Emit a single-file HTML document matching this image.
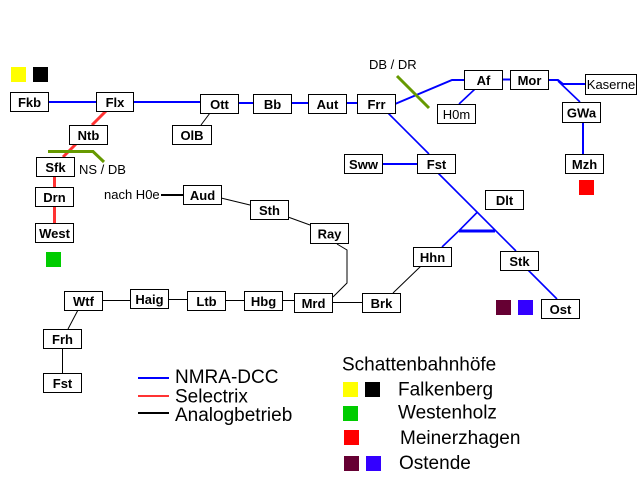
<!DOCTYPE html>
<html><head><meta charset="utf-8"><style>
html,body{margin:0;padding:0;background:#fff;}
svg{display:block;}
.b{font-family:"Liberation Sans",Arial,sans-serif;font-weight:bold;font-size:13px;fill:#000;}
.n{font-family:"Liberation Sans",Arial,sans-serif;font-size:13px;fill:#000;}
.l{font-family:"Liberation Sans",Arial,sans-serif;font-size:19px;fill:#000;}
rect.box{fill:#fff;stroke:#000;stroke-width:1;}
</style></head><body>
<svg width="640" height="480" viewBox="0 0 640 480" xmlns="http://www.w3.org/2000/svg">
<rect x="0" y="0" width="640" height="480" fill="#fff"/>
<!-- blue lines -->
<g stroke="#0000ff" fill="none" stroke-width="2">
<line x1="48" y1="102" x2="96" y2="102"/>
<line x1="133" y1="102" x2="200" y2="102"/>
<line x1="238" y1="103" x2="253" y2="103"/>
<line x1="291" y1="103" x2="308" y2="103"/>
<line x1="346" y1="103" x2="357" y2="103"/>
<polyline points="395,104 452,80 464,80"/>
<line x1="502" y1="79.5" x2="510" y2="79.5"/>
<polyline points="548,80 558,80 563,84 585,84"/>
<line x1="583" y1="122" x2="583" y2="154"/>
<line x1="382" y1="164" x2="417" y2="164"/>
</g>
<g stroke="#0000ff" fill="none" stroke-width="1.6">
<line x1="558" y1="81" x2="580" y2="102"/>
<line x1="475" y1="89" x2="459" y2="104"/>
<line x1="388" y1="113" x2="429" y2="154"/>
<line x1="438" y1="173" x2="516" y2="251"/>
<line x1="477" y1="212.5" x2="459" y2="230.7"/>
<line x1="459" y1="230.7" x2="442" y2="247"/>
<line x1="528" y1="270" x2="557" y2="299"/>
</g>
<line x1="459" y1="231" x2="495" y2="231" stroke="#0000ff" stroke-width="3"/>
<!-- red lines -->
<g stroke="#ff3333" fill="none" stroke-width="3">
<line x1="106" y1="111" x2="92" y2="125"/>
<line x1="76" y1="144" x2="63" y2="157"/>
<line x1="54.5" y1="176" x2="54.5" y2="187"/>
<line x1="54.5" y1="206" x2="54.5" y2="223"/>
</g>
<!-- green markers -->
<g stroke="#669900" fill="none" stroke-width="3">
<polyline points="48,151.5 93,151.5 104,162"/>
<line x1="397" y1="76" x2="429" y2="108"/>
</g>
<!-- black lines -->
<g stroke="#000" fill="none" stroke-width="1">
<line x1="210" y1="113" x2="201" y2="125"/>
<line x1="221" y1="198" x2="250" y2="205"/>
<line x1="288" y1="217" x2="310" y2="225"/>
<polyline points="337,244 347,250 347,283 333,297"/>
<line x1="102" y1="300.5" x2="130" y2="300.5"/>
<line x1="168" y1="299.5" x2="187" y2="299.5"/>
<line x1="225" y1="300.5" x2="244" y2="300.5"/>
<line x1="282" y1="300.5" x2="294" y2="300.5"/>
<line x1="332" y1="302.5" x2="362" y2="302.5"/>
<line x1="421" y1="266" x2="393" y2="293"/>
<line x1="78" y1="310" x2="68" y2="329"/>
<line x1="62.5" y1="348" x2="62.5" y2="373"/>
</g>
<line x1="161" y1="195" x2="183" y2="195" stroke="#000" stroke-width="2"/>
<!-- boxes -->
<g>
<rect class="box" x="10.5" y="92.5" width="38" height="19"/><text class="b" x="29.5" y="107" text-anchor="middle">Fkb</text>
<rect class="box" x="96.5" y="92.5" width="37" height="19"/><text class="b" x="115" y="107" text-anchor="middle">Flx</text>
<rect class="box" x="200.5" y="94.5" width="38" height="19"/><text class="b" x="219.5" y="109" text-anchor="middle">Ott</text>
<rect class="box" x="172.5" y="125.5" width="39" height="19"/><text class="b" x="192" y="140" text-anchor="middle">OlB</text>
<rect class="box" x="253.5" y="94.5" width="38" height="19"/><text class="b" x="272.5" y="109" text-anchor="middle">Bb</text>
<rect class="box" x="308.5" y="94.5" width="38" height="19"/><text class="b" x="327.5" y="109" text-anchor="middle">Aut</text>
<rect class="box" x="357.5" y="94.5" width="38" height="19"/><text class="b" x="376.5" y="109" text-anchor="middle">Frr</text>
<rect class="box" x="464.5" y="70.5" width="38" height="19"/><text class="b" x="483.5" y="85" text-anchor="middle">Af</text>
<rect class="box" x="510.5" y="70.5" width="38" height="19"/><text class="b" x="529.5" y="85" text-anchor="middle">Mor</text>
<rect class="box" x="585.5" y="74.5" width="51" height="20"/><text class="n" x="611" y="89" text-anchor="middle">Kaserne</text>
<rect class="box" x="437.5" y="104.5" width="38" height="19"/><text class="n" x="456.5" y="119" text-anchor="middle">H0m</text>
<rect class="box" x="562.5" y="102.5" width="38" height="20"/><text class="b" x="581.5" y="117.5" text-anchor="middle">GWa</text>
<rect class="box" x="565.5" y="154.5" width="38" height="19"/><text class="b" x="584.5" y="169" text-anchor="middle">Mzh</text>
<rect class="box" x="344.5" y="154.5" width="38" height="19"/><text class="b" x="363.5" y="169" text-anchor="middle">Sww</text>
<rect class="box" x="417.5" y="154.5" width="38" height="19"/><text class="b" x="436.5" y="169" text-anchor="middle">Fst</text>
<rect class="box" x="485.5" y="190.5" width="38" height="19"/><text class="b" x="504.5" y="205" text-anchor="middle">Dlt</text>
<rect class="box" x="413.5" y="247.5" width="38" height="19"/><text class="b" x="432.5" y="262" text-anchor="middle">Hhn</text>
<rect class="box" x="500.5" y="251.5" width="38" height="19"/><text class="b" x="519.5" y="266" text-anchor="middle">Stk</text>
<rect class="box" x="541.5" y="299.5" width="38" height="19"/><text class="b" x="560.5" y="314" text-anchor="middle">Ost</text>
<rect class="box" x="69.5" y="125.5" width="38" height="19"/><text class="b" x="88.5" y="140" text-anchor="middle">Ntb</text>
<rect class="box" x="36.5" y="157.5" width="38" height="19"/><text class="b" x="55.5" y="172" text-anchor="middle">Sfk</text>
<rect class="box" x="35.5" y="187.5" width="38" height="19"/><text class="b" x="54.5" y="202" text-anchor="middle">Drn</text>
<rect class="box" x="35.5" y="223.5" width="38" height="19"/><text class="b" x="54.5" y="238" text-anchor="middle">West</text>
<rect class="box" x="183.5" y="185.5" width="38" height="19"/><text class="b" x="202.5" y="200" text-anchor="middle">Aud</text>
<rect class="box" x="250.5" y="200.5" width="38" height="19"/><text class="b" x="269.5" y="215" text-anchor="middle">Sth</text>
<rect class="box" x="310.5" y="223.5" width="38" height="20"/><text class="b" x="329.5" y="238.5" text-anchor="middle">Ray</text>
<rect class="box" x="64.5" y="291.5" width="38" height="19"/><text class="b" x="83.5" y="306" text-anchor="middle">Wtf</text>
<rect class="box" x="130.5" y="289.5" width="38" height="19"/><text class="b" x="149.5" y="304" text-anchor="middle">Haig</text>
<rect class="box" x="187.5" y="291.5" width="38" height="19"/><text class="b" x="206.5" y="306" text-anchor="middle">Ltb</text>
<rect class="box" x="244.5" y="291.5" width="38" height="19"/><text class="b" x="263.5" y="306" text-anchor="middle">Hbg</text>
<rect class="box" x="294.5" y="293.5" width="38" height="19"/><text class="b" x="313.5" y="308" text-anchor="middle">Mrd</text>
<rect class="box" x="362.5" y="293.5" width="38" height="19"/><text class="b" x="381.5" y="308" text-anchor="middle">Brk</text>
<rect class="box" x="43.5" y="329.5" width="38" height="19"/><text class="b" x="62.5" y="344" text-anchor="middle">Frh</text>
<rect class="box" x="43.5" y="373.5" width="38" height="19"/><text class="b" x="62.5" y="388" text-anchor="middle">Fst</text>
</g>
<!-- small labels -->
<text class="n" x="79" y="174">NS / DB</text>
<text class="n" x="369" y="69">DB / DR</text>
<text class="n" x="104" y="199">nach H0e</text>
<!-- squares -->
<rect x="11" y="67" width="15" height="15" fill="#ffff00"/>
<rect x="33" y="67" width="15" height="15" fill="#000"/>
<rect x="46" y="252" width="15" height="15" fill="#00cc00"/>
<rect x="579" y="180" width="15" height="15" fill="#ff0000"/>
<rect x="496" y="300" width="15" height="15" fill="#660033"/>
<rect x="518" y="300" width="15" height="15" fill="#3300ff"/>
<!-- legend -->
<line x1="138" y1="378" x2="169" y2="378" stroke="#0000ff" stroke-width="2"/>
<line x1="138" y1="396" x2="169" y2="396" stroke="#ff3333" stroke-width="2"/>
<line x1="138" y1="413" x2="169" y2="413" stroke="#000" stroke-width="2"/>
<text class="l" x="175" y="383">NMRA-DCC</text>
<text class="l" x="175" y="402.5">Selectrix</text>
<text class="l" x="175" y="421">Analogbetrieb</text>
<text class="l" x="342" y="370.5">Schattenbahnhöfe</text>
<rect x="343" y="382" width="15" height="15" fill="#ffff00"/>
<rect x="365" y="382" width="15" height="15" fill="#000"/>
<text class="l" x="398" y="395.5">Falkenberg</text>
<rect x="343" y="406" width="15" height="15" fill="#00cc00"/>
<text class="l" x="398" y="418.5">Westenholz</text>
<rect x="344" y="430" width="15" height="15" fill="#ff0000"/>
<text class="l" x="400" y="444">Meinerzhagen</text>
<rect x="344" y="456" width="15" height="15" fill="#660033"/>
<rect x="366" y="456" width="15" height="15" fill="#3300ff"/>
<text class="l" x="399" y="469">Ostende</text>
</svg>
</body></html>
